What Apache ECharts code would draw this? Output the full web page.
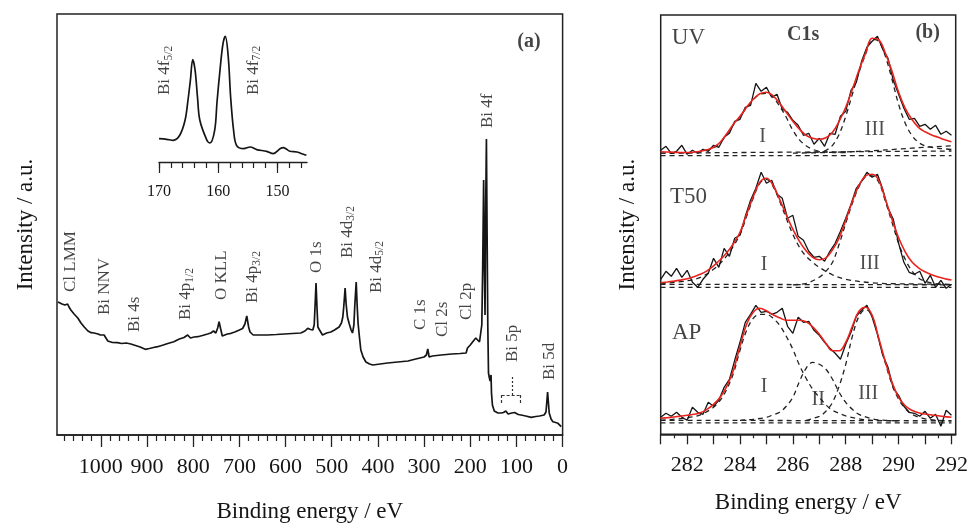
<!DOCTYPE html>
<html><head><meta charset="utf-8">
<script src="https://cdn.jsdelivr.net/npm/echarts@6/dist/echarts.min.js"></script>
<style>html,body{margin:0;padding:0;background:#fff}#c{width:970px;height:523px}</style>
</head><body><div id="c"></div>
<script>
// ---------- Panel (a): survey spectrum [binding energy eV, intensity a.u.] ----------
const surveyData = [[1093,133],[1090,133.3],[1084,131],[1078,130],[1072,131],[1069,128],[1065,125],[1058,121],[1050,117],[1043,112],[1036,108],[1028,104],[1021,102.3],[1015,102],[1011,103.5],[1006,101],[1001,100],[997,99],[993,100],[989,98],[985,94],[982,92.3],[975,92.5],[964,92.3],[955,91.5],[945,92],[935,91],[925,89.5],[915,88],[904,85.7],[895,86.5],[886,87.5],[877,88.3],[865,90],[855,91.5],[842,93.3],[830,96],[820,97.5],[812,100],[806,97],[798,98],[790,98.3],[780,99.5],[769,101],[762,102],[756,104],[751,102],[747,107],[744,113.3],[741,107],[737,99],[734,98.3],[726,101],[718,101.7],[710,103],[700,105],[693,106.5],[688,111],[684,119],[680,108],[677,103],[670,100],[655,100],[639,100],[620,100.5],[603,101],[585,101.5],[567,102],[558,104],[552,106.7],[546,105.5],[541,105],[538,110],[536,130],[534,152],[532,128],[530,108],[527,105.5],[524,106],[520,100],[511,102],[502,103],[494,105],[484,108],[479,112],[476,118],[474,128],[471,147],[469,132],[466,118],[462,111],[458,105],[455,102],[452,110],[450,130],[447,153],[445,130],[443,112],[440,98],[437,85],[432,78],[426,73],[418,71],[411,70],[395,71],[379,72],[357,73],[335,74],[318,76],[300,78],[295,80],[292,86],[289,78],[282,79],[263,80],[240,81],[222,81.5],[209,82],[206,87],[200,90],[195,93],[188,97],[184,96],[180,93],[177,92],[175,110],[173,170],[171,255],[169.5,170],[168,120],[166.5,230],[165,296],[163.5,200],[162,110],[160.5,62],[159,58],[157,54],[155,60],[154,42],[152,30],[148,24],[140,22],[133,22],[128,22.5],[123,24],[118,21],[110,22],[104,22.5],[101,23],[96,20.5],[90,20],[80,19],[68,17.7],[58,18.5],[50,19],[40,20],[36,23],[34,34],[32.5,43],[31,34],[29,22],[25,16],[21,13.3],[15,12.5],[10,11.7],[6,10],[3,8.3]];
const surveyMajorTicks = [0,100,200,300,400,500,600,700,800,900,1000];
const surveyMinorTicks = [20,40,60,80,120,140,160,180,220,240,260,280,320,340,360,380,420,440,460,480,520,540,560,580,620,640,660,680,720,740,760,780,820,840,860,880,920,940,960,980,1020,1040,1060,1080];
const surveyPeakNames = ['Cl LMM','Bi NNV','Bi 4s','{m|Bi 4p}{s|1/2}','O KLL','{m|Bi 4p}{s|3/2}','O 1s','{m|Bi 4d}{s|3/2}','{m|Bi 4d}{s|5/2}','C 1s','Cl 2s','Cl 2p','Bi 4f','Bi 5p','Bi 5d'];
const surveyPeakAt = [[1065,143],[993,120],[928,103],[816,115],[738,135],[671,132],[532,162],[466,177],[404,142],[308,105],[260,98],[209,115],[162,307],[108,73],[29,55]];
// Bi 5p bracket (data coordinates)
const bracketLines = [[[132,40],[91.6,40]],[[132,40],[132,31]],[[91.6,40],[91.6,31]]];
const bracketStem = [[[110,40],[110,60]]];

// ---------- Inset: Bi 4f ----------
const insetE = [170,168.7,167.6,166.5,165.6,165.1,164.7,164.3,163.9,163.5,163.1,161.9,161.4,160.6,160.2,159.7,159.2,158.8,158.3,157.9,157.4,156.9,155.7,154.6,153.5,151.8,150.7,149.5,149,147.9,146.7,145.6,145.1];
const insetI = [23.4,22.7,21.7,26.7,41.7,62,81.7,102.4,91.7,65,41.7,21.7,19,31.7,60,91.7,118,125.7,105,65,31.7,16.7,13.4,15,12.4,10.7,8.4,13.4,14.4,10.7,10,7.7,6.7];
const insetMajorTicks = [150,160,170];
const insetMinorTicks = [146,148,150,152,154,156,158,160,162,164,166,168,170];
const insetPeakNames = ['{m|Bi 4f}{s|5/2}','{m|Bi 4f}{s|7/2}'];
const insetPeakAt = [[169,67],[154.1,67]];

// ---------- Panel (b): C1s spectra ----------
const eRaw = [281.0,281.2,281.4,281.6,281.8,282.0,282.2,282.4,282.6,282.8,283.0,283.2,283.4,283.6,283.8,284.0,284.2,284.4,284.6,284.8,285.0,285.2,285.4,285.6,285.8,286.0,286.2,286.4,286.6,286.8,287.0,287.2,287.4,287.6,287.8,288.0,288.2,288.4,288.6,288.8,289.0,289.2,289.4,289.6,289.8,290.0,290.2,290.4,290.6,290.8,291.0,291.2,291.4,291.6,291.8,292.0];
const uvRaw = [284,288,281,283,289,280,284,281,285,283,289,287,297,301,313,315,327,329,351,343,347,337,340,325,322,314,309,299,301,290,296,288,301,300,318,323,344,352,373,387,393,398,385,376,354,340,326,315,316,308,310,305,309,300,303,299];
const t50Raw = [155,163,158,166,157,164,152,147,155,161,176,167,186,178,196,199,218,234,246,262,251,254,240,236,216,219,198,194,183,177,178,173,183,191,203,216,230,246,253,262,257,260,245,226,215,191,172,162,160,163,151,159,147,154,146,150];
const apRaw = [17,21,18,22,17,14,27,22,20,32,28,34,47,55,74,92,112,120,129,122,123,120,122,126,108,101,117,112,113,104,99,92,86,81,75,90,102,118,124,129,117,100,79,67,46,39,28,22,21,18,23,16,20,8,24,19];
const eFit = [281.00,281.25,281.50,281.75,282.00,282.25,282.50,282.75,283.00,283.25,283.50,283.75,284.00,284.25,284.50,284.75,285.00,285.25,285.50,285.75,286.00,286.25,286.50,286.75,287.00,287.25,287.50,287.75,288.00,288.25,288.50,288.75,289.00,289.25,289.50,289.75,290.00,290.25,290.50,290.75,291.00,291.25,291.50,291.75,292.00];
const uvFit = [282.5,282.3,282.0,281.8,281.8,282.2,283.0,284.5,287,292,300.5,310,318,327,335,340.5,342,338.5,331,322,313,305,299,296,295,296.5,302,313,327,345,364,381,396,394.5,381,363,342,326,315,307,302.5,299.3,297,294.5,292.6];
const t50Fit = [151.5,152.3,153.2,154.2,155.5,157.5,160,163.5,168.5,174.5,181.5,190.5,202,220,237.5,252,256,249,235,219.5,205,193,183.5,177,174.5,176.5,184.5,196.5,214,233,249,258.5,260,254,235,215,196.5,182.5,172.5,166.5,162.5,159.5,157.3,155.6,154.3];
const apFit = [16,16.6,17.3,18.2,19,20,21.5,25,30,37,48,64,88,110,122,126,123.5,119.5,116.5,114,114,114,112.5,107.5,100,91,83.5,83.5,92,108,123,127,119,96,72.5,52,37,28.5,24,21.5,20.3,19.3,18.5,17.7,17];
// fitted components and backgrounds [eV, intensity]
const uvBase1 = [[281,278.6],[292,278.6]];
const uvBase2 = [[281,281.2],[292,283.3]];
const uvComp4 = [[286,281.2],[287,281.6],[288,282.4],[289,283.6],[290,285.2],[291,287],[292,288.5]];
const uvComp1 = [[281,281.2],[282,281.5],[282.5,282.5],[283,286.5],[283.25,291.5],[283.5,300],[283.75,309.5],[284,317.5],[284.25,326.5],[284.5,334.5],[284.75,340],[285,341],[285.25,337],[285.5,328],[285.75,317],[286,304],[286.25,294.5],[286.5,288.5],[286.75,285],[287,283],[287.5,281.8],[288,281.6]];
const uvComp3 = [[286.5,281.6],[287,282.5],[287.25,284],[287.5,289],[287.75,300],[288,318],[288.25,340],[288.5,362],[288.75,380],[289,395],[289.25,393],[289.5,378],[289.75,355],[290,330],[290.25,311],[290.5,299],[290.75,292],[291,288.5],[291.5,286],[292,285]];
const t50Base1 = [[281,147],[292,147]];
const t50Base2 = [[281,150],[292,149.5]];
const t50Comp1 = [[281,150.5],[282,153.5],[282.5,157],[283,165],[283.5,178.5],[284,200],[284.25,218],[284.5,236],[284.75,251],[285,255],[285.25,248],[285.5,233],[285.75,216],[286,200],[286.25,187],[286.5,178],[286.75,172],[287,167],[287.5,159.5],[288,155],[289,151.5],[290,150.5],[292,150]];
const t50Comp3 = [[286,149.5],[286.5,151],[287,157],[287.25,163],[287.5,172],[287.75,190],[288,211],[288.25,231],[288.5,247.5],[288.75,257.5],[289,258.5],[289.25,252],[289.5,233],[289.75,212],[290,191],[290.25,175],[290.5,163.5],[290.75,156.5],[291,153],[291.5,150.3],[292,149.5]];
const apBase1 = [[281,11.5],[292,11.5]];
const apBase2 = [[281,14],[292,13.5]];
const apComp1 = [[281,14],[282,16.5],[282.5,19.5],[283,27],[283.25,34],[283.5,45],[283.75,61],[284,84],[284.25,104],[284.5,116],[284.75,120],[285,120],[285.25,116],[285.5,109],[285.75,98],[286,85],[286.25,69],[286.5,56],[286.75,45],[287,37],[287.25,29.5],[287.5,24],[288,18.5],[288.5,15.5],[289,14],[290,13.5]];
const apComp2 = [[284,14],[284.5,15],[285,17],[285.25,19.5],[285.5,22],[285.75,28],[286,37],[286.25,53],[286.5,66],[286.75,72],[287,70],[287.25,65],[287.5,55],[287.75,42],[288,32],[288.25,25],[288.5,20],[289,15.5],[289.5,14],[290,13.5]];
const apComp3 = [[286.5,14],[287,18],[287.25,23],[287.5,32],[287.75,48],[288,70],[288.25,98],[288.5,118],[288.75,125],[289,118],[289.25,95],[289.5,71],[289.75,50],[290,35],[290.25,26],[290.5,20],[291,15.5],[291.5,14],[292,13.5]];
const c1sMajorTicks = [281,282,283,284,285,286,287,288,289,290,291,292];
const c1sMinorTicks = [281.5,282.5,283.5,284.5,285.5,286.5,287.5,288.5,289.5,290.5,291.5];
const c1sTickLabels = [282,284,286,288,290,292];
const c1sTexts = ['UV','T50','AP','I','III','I','III','I','II','III'];
const c1sTextAt = [[282.05,396],[282.05,237.6],[281.98,101],[284.85,297.6],[289.1,304.3],[284.91,169.3],[288.91,171],[284.91,47.6],[286.96,34.3],[288.85,41]];
const boldTexts = ['(a)','C1s','(b)'];

// ---------- chart ----------
const FF = 'Liberation Serif, Times New Roman, serif';
const INK = '#151515';
const RED = '#e8231d';
const zip = (a, b) => a.map((v, i) => [v, b[i]]);
const plain = v => String(v);
const dashed = (data) => ({type:'line', xAxisIndex:4, yAxisIndex:2, data, smooth:0.35, showSymbol:false, silent:true,
  lineStyle:{color:'#222', width:1.3, type:[5,4]}, z:2});
const rawLine = (ys) => ({type:'line', xAxisIndex:4, yAxisIndex:2, data: zip(eRaw, ys), showSymbol:false, silent:true,
  lineStyle:{color:INK, width:1.3}, z:3});
const fitLine = (ys) => ({type:'line', xAxisIndex:4, yAxisIndex:2, data: zip(eFit, ys), smooth:0.4, showSymbol:false, silent:true,
  lineStyle:{color:RED, width:1.6}, z:4});
const richSub = {
  m:{fontSize:17, fontFamily:FF, color:INK, lineHeight:20},
  s:{fontSize:11.5, fontFamily:FF, color:INK, lineHeight:20, verticalAlign:'bottom'}
};
const textSeries = (xi, yi, names, at, lab) => ({
  type:'scatter', xAxisIndex:xi, yAxisIndex:yi, symbolSize:1, silent:true, z:10,
  itemStyle:{color:'rgba(0,0,0,0)'},
  data: names.map((t, i) => ({value: at[i], txt: t})),
  label: Object.assign({show:true, position:'inside', formatter: p => p.data.txt}, lab)
});

const axisBase = {splitLine:{show:false}, axisPointer:{show:false}};
const option = {
  animation:false,
  textStyle:{fontFamily:FF},
  grid:[
    {left:57, top:14, width:505.6, height:421, show:true, borderColor:'#222', borderWidth:1.5, backgroundColor:'transparent', containLabel:false, outerBoundsMode:'none'},
    {left:159, top:32, width:148, height:130, containLabel:false, outerBoundsMode:'none'},
    {left:660.7, top:15, width:295, height:419.3, show:true, borderColor:'#222', borderWidth:1.5, backgroundColor:'transparent', containLabel:false, outerBoundsMode:'none'}
  ],
  xAxis:[
    Object.assign({gridIndex:0, type:'value', inverse:true, min:0, max:1095, position:'bottom',
      axisLine:{show:true, onZero:false, lineStyle:{color:'#222', width:1.5}},
      axisTick:{show:true, length:12, customValues:surveyMajorTicks, lineStyle:{color:'#222', width:1.3}},
      axisLabel:{customValues:surveyMajorTicks, formatter:plain, fontSize:22, margin:21, color:INK, fontFamily:FF},
      name:'Binding energy / eV', nameLocation:'middle', nameGap:65,
      nameTextStyle:{fontSize:23, color:INK, fontFamily:FF}}, axisBase),
    Object.assign({gridIndex:0, type:'value', inverse:true, min:0, max:1095, position:'bottom',
      axisLine:{show:false},
      axisTick:{show:true, length:6, customValues:surveyMinorTicks, lineStyle:{color:'#222', width:1.2}},
      axisLabel:{show:false}}, axisBase),
    Object.assign({gridIndex:1, type:'value', inverse:true, min:145, max:170, position:'bottom',
      axisLine:{show:true, onZero:false, lineStyle:{color:'#222', width:1.4}},
      axisTick:{show:true, length:11, customValues:insetMajorTicks, lineStyle:{color:'#222', width:1.2}},
      axisLabel:{customValues:insetMajorTicks, formatter:plain, fontSize:16, margin:22, color:INK, fontFamily:FF}}, axisBase),
    Object.assign({gridIndex:1, type:'value', inverse:true, min:145, max:170, position:'bottom',
      axisLine:{show:false},
      axisTick:{show:true, length:6, customValues:insetMinorTicks, lineStyle:{color:'#222', width:1.2}},
      axisLabel:{show:false}}, axisBase),
    Object.assign({gridIndex:2, type:'value', min:281, max:292.16, position:'bottom',
      axisLine:{show:true, onZero:false, lineStyle:{color:'#222', width:1.5}},
      axisTick:{show:true, length:10, customValues:c1sMajorTicks, lineStyle:{color:'#222', width:1.3}},
      axisLabel:{customValues:c1sTickLabels, formatter:plain, fontSize:22, margin:20, color:INK, fontFamily:FF},
      name:'Binding energy / eV', nameLocation:'middle', nameGap:57,
      nameTextStyle:{fontSize:23, color:INK, fontFamily:FF}}, axisBase),
    Object.assign({gridIndex:2, type:'value', min:281, max:292.16, position:'bottom',
      axisLine:{show:false},
      axisTick:{show:true, length:4, customValues:c1sMinorTicks, lineStyle:{color:'#222', width:1.2}},
      axisLabel:{show:false}}, axisBase)
  ],
  yAxis:[
    Object.assign({gridIndex:0, type:'value', min:0, max:421, axisLine:{show:false}, axisTick:{show:false}, axisLabel:{show:false},
      name:'Intensity / a.u.', nameLocation:'middle', nameGap:20, nameRotate:90,
      nameTextStyle:{fontSize:23, color:INK, fontFamily:FF}}, axisBase),
    Object.assign({gridIndex:1, type:'value', min:0, max:130, show:false}, axisBase),
    Object.assign({gridIndex:2, type:'value', min:0, max:419.3, axisLine:{show:false}, axisTick:{show:false}, axisLabel:{show:false},
      name:'Intensity / a.u.', nameLocation:'middle', nameGap:21, nameRotate:90,
      nameTextStyle:{fontSize:23, color:INK, fontFamily:FF}}, axisBase)
  ],
  series:[
    {type:'line', xAxisIndex:0, yAxisIndex:0, data:surveyData, showSymbol:false, silent:true,
      lineStyle:{color:INK, width:1.7},
      markLine:{silent:true, symbol:['none','none'], label:{show:false},
        lineStyle:{color:'#333', width:1.2, type:[3,2]},
        data: bracketLines.map(s => [{coord:s[0]},{coord:s[1]}]).concat(
              bracketStem.map(s => [{coord:s[0]},{coord:s[1], lineStyle:{type:[2,2]}}]))}},
    {type:'line', xAxisIndex:2, yAxisIndex:1, data:zip(insetE, insetI), smooth:0.35, showSymbol:false, silent:true,
      lineStyle:{color:INK, width:1.7}},
    dashed(uvBase1), dashed(uvBase2), dashed(uvComp4), dashed(uvComp1), dashed(uvComp3),
    dashed(t50Base1), dashed(t50Base2), dashed(t50Comp1), dashed(t50Comp3),
    dashed(apBase1), dashed(apBase2), dashed(apComp1), dashed(apComp2), dashed(apComp3),
    rawLine(uvRaw), rawLine(t50Raw), rawLine(apRaw),
    fitLine(uvFit), fitLine(t50Fit), fitLine(apFit),
    textSeries(0, 0, surveyPeakNames, surveyPeakAt, {rotate:90, align:'left', verticalAlign:'middle', fontSize:17, color:INK, fontFamily:FF, rich:richSub}),
    textSeries(2, 1, insetPeakNames, insetPeakAt, {rotate:90, align:'left', verticalAlign:'middle', fontSize:17, color:INK, fontFamily:FF, rich:richSub}),
    textSeries(4, 2, c1sTexts, c1sTextAt, {align:'center', verticalAlign:'middle', fontSize:20, color:'#222', fontFamily:FF,
      rich:{}}),
    textSeries(0, 0, [boldTexts[0]], [[73,393]], {align:'center', verticalAlign:'middle', fontSize:20, fontWeight:'bold', color:INK, fontFamily:FF}),
    textSeries(4, 2, [boldTexts[1], boldTexts[2]], [[286.39,399.3],[291.1,401]], {align:'center', verticalAlign:'middle', fontSize:20, fontWeight:'bold', color:INK, fontFamily:FF})
  ]
};
// larger font for sample names
option.series[option.series.length - 3].data.forEach((d, i) => { if (i < 3) d.label = {fontSize:23, color:INK}; });
const chart = echarts.init(document.getElementById('c'), null, {renderer:'canvas'});
chart.setOption(option);
</script></body></html>
